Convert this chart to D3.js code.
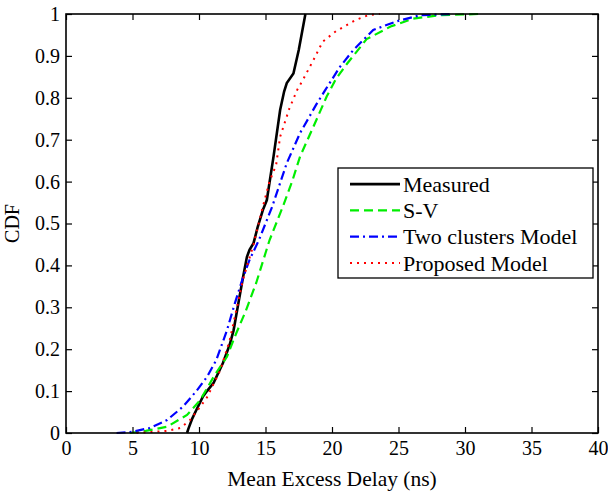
<!DOCTYPE html>
<html>
<head>
<meta charset="utf-8">
<script src="https://cdn.jsdelivr.net/npm/d3@7"></script>
<style>
  body { margin: 0; background: #fff; }
  svg text { font-family: "Liberation Serif", "Times New Roman", serif; fill: #000; }
</style>
</head>
<body>
<div id="chart"></div>
<script>
  // values (x = delay in ns, y = CDF)
  var measuredX = [9.1, 9.2, 9.5, 9.8, 10.3, 10.6, 11.1, 11.8, 12.3, 12.6, 13.0, 13.3, 13.6, 13.8, 14.1, 14.4, 14.8, 15.1, 15.6, 16.1, 16.4, 16.6, 17.1, 17.5, 18.0];
  var measuredY = [0, 0.01, 0.035, 0.055, 0.087, 0.10, 0.12, 0.167, 0.21, 0.245, 0.317, 0.37, 0.42, 0.437, 0.453, 0.49, 0.532, 0.556, 0.659, 0.771, 0.815, 0.835, 0.858, 0.914, 1.0];

  var svX = [4.8, 6.0, 7.6, 9.1, 10.1, 11.1, 12.1, 12.8, 13.5, 14.3, 15.3, 16.3, 17.0, 17.6, 18.6, 19.6, 20.3, 21.1, 22.6, 24.4, 26.1, 28.1, 31.0];
  var svY = [0, 0.005, 0.015, 0.043, 0.079, 0.134, 0.182, 0.238, 0.29, 0.358, 0.46, 0.54, 0.6, 0.66, 0.731, 0.803, 0.845, 0.88, 0.94, 0.97, 0.989, 0.997, 1.0];

  var twoX = [3.8, 5.0, 6.3, 7.6, 8.8, 9.8, 10.6, 11.3, 12.1, 12.7, 13.3, 13.8, 14.5, 15.1, 15.5, 16.6, 17.6, 18.3, 18.8, 19.5, 20.6, 21.6, 23.1, 24.9, 26.6, 29.1];
  var twoY = [0, 0.003, 0.012, 0.031, 0.063, 0.10, 0.134, 0.174, 0.245, 0.31, 0.37, 0.413, 0.46, 0.508, 0.54, 0.644, 0.716, 0.755, 0.783, 0.819, 0.874, 0.914, 0.962, 0.983, 0.997, 1.0];

  var propX = [5.3, 7.6, 8.6, 9.3, 10.1, 10.6, 11.6, 12.3, 13.3, 14.1, 14.8, 15.3, 15.8, 16.1, 16.8, 17.4, 17.8, 18.6, 19.3, 20.3, 21.8, 22.8, 23.6];
  var propY = [0, 0.005, 0.012, 0.03, 0.063, 0.085, 0.15, 0.22, 0.365, 0.45, 0.54, 0.6, 0.64, 0.707, 0.775, 0.82, 0.842, 0.89, 0.934, 0.959, 0.986, 0.998, 1.0];

  var xTicks = [0, 5, 10, 15, 20, 25, 30, 35, 40];
  var yTicks = [0, 0.1, 0.2, 0.3, 0.4, 0.5, 0.6, 0.7, 0.8, 0.9, 1];
  var seriesNames = ["Measured", "S-V", "Two clusters Model", "Proposed Model"];

  var W = 608, H = 492;
  var margin = {left: 66, right: 10, top: 14, bottom: 59};

  var series = [
    {name: seriesNames[0], xs: measuredX, ys: measuredY, color: "#000", width: 2.6, dash: null},
    {name: seriesNames[1], xs: svX, ys: svY, color: "#00ee00", width: 2.2, dash: "9,5"},
    {name: seriesNames[2], xs: twoX, ys: twoY, color: "#0000ff", width: 2.2, dash: "9,4,2,4"},
    {name: seriesNames[3], xs: propX, ys: propY, color: "#ff0000", width: 2, dash: "2,5"}
  ];

  var svg = d3.select("#chart").append("svg")
    .attr("width", W)
    .attr("height", H);

  var x = d3.scaleLinear().domain([0, 40]).range([margin.left, W - margin.right]);
  var y = d3.scaleLinear().domain([0, 1]).range([H - margin.bottom, margin.top]);

  var line = d3.line()
    .x(function(d){ return x(d[0]); })
    .y(function(d){ return y(d[1]); });

  // curves first, frame on top
  series.forEach(function(s){
    var pts = s.xs.map(function(v, i){ return [v, s.ys[i]]; });
    svg.append("path")
      .datum(pts)
      .attr("d", line)
      .attr("fill", "none")
      .attr("stroke", s.color)
      .attr("stroke-width", s.width)
      .attr("stroke-dasharray", s.dash);
  });

  // axes: ticks pointing inward, mirrored on top/right
  var gx = svg.append("g")
    .attr("transform", "translate(0," + y(0) + ")")
    .call(d3.axisBottom(x).tickValues(xTicks).tickSizeInner(-6).tickSizeOuter(0).tickPadding(8));
  var gy = svg.append("g")
    .attr("transform", "translate(" + x(0) + ",0)")
    .call(d3.axisLeft(y).tickValues(yTicks).tickSizeInner(-6).tickSizeOuter(0).tickPadding(6)
      .tickFormat(function(d){ return d === 0 || d === 1 ? String(d) : d3.format(".1f")(d); }));
  svg.append("g")
    .attr("transform", "translate(0," + y(1) + ")")
    .call(d3.axisTop(x).tickValues(xTicks).tickSizeInner(-6).tickSizeOuter(0).tickFormat(""));
  svg.append("g")
    .attr("transform", "translate(" + x(40) + ",0)")
    .call(d3.axisRight(y).tickValues(yTicks).tickSizeInner(-6).tickSizeOuter(0).tickFormat(""));

  svg.selectAll(".domain").remove();
  svg.selectAll(".tick line").attr("stroke", "#000").attr("stroke-width", 1.2);
  gx.selectAll("text").style("font-size", "20px").attr("font-family", "Liberation Serif");
  gy.selectAll("text").style("font-size", "20px").attr("font-family", "Liberation Serif");

  svg.append("rect")
    .attr("x", x(0)).attr("y", y(1))
    .attr("width", x(40) - x(0)).attr("height", y(0) - y(1))
    .attr("fill", "none").attr("stroke", "#000").attr("stroke-width", 1.6);

  svg.append("text")
    .attr("x", (x(0) + x(40)) / 2)
    .attr("y", 486)
    .attr("text-anchor", "middle")
    .style("font-size", "21.5px")
    .text("Mean Excess Delay (ns)");

  svg.append("text")
    .attr("transform", "translate(19," + y(0.5) + ") rotate(-90)")
    .attr("text-anchor", "middle")
    .style("font-size", "20px")
    .text("CDF");

  // legend
  var lg = svg.append("g").attr("transform", "translate(338,168)");
  lg.append("rect")
    .attr("width", 255).attr("height", 110)
    .attr("fill", "#fff").attr("stroke", "#000").attr("stroke-width", 1.3);

  var row = d3.scaleBand().domain(seriesNames).range([3, 108]);
  var items = lg.selectAll("g.item")
    .data(series)
    .enter().append("g")
    .attr("class", "item")
    .attr("transform", function(d){ return "translate(0," + (row(d.name) + row.bandwidth() / 2) + ")"; });
  items.append("line")
    .attr("x1", 12).attr("x2", 62)
    .attr("stroke", function(d){ return d.color; })
    .attr("stroke-width", function(d){ return d.width; })
    .attr("stroke-dasharray", function(d){ return d.dash; });
  items.append("text")
    .attr("x", 65)
    .attr("dy", "0.35em")
    .style("font-size", "22px")
    .text(function(d){ return d.name; });
</script>
</body>
</html>
